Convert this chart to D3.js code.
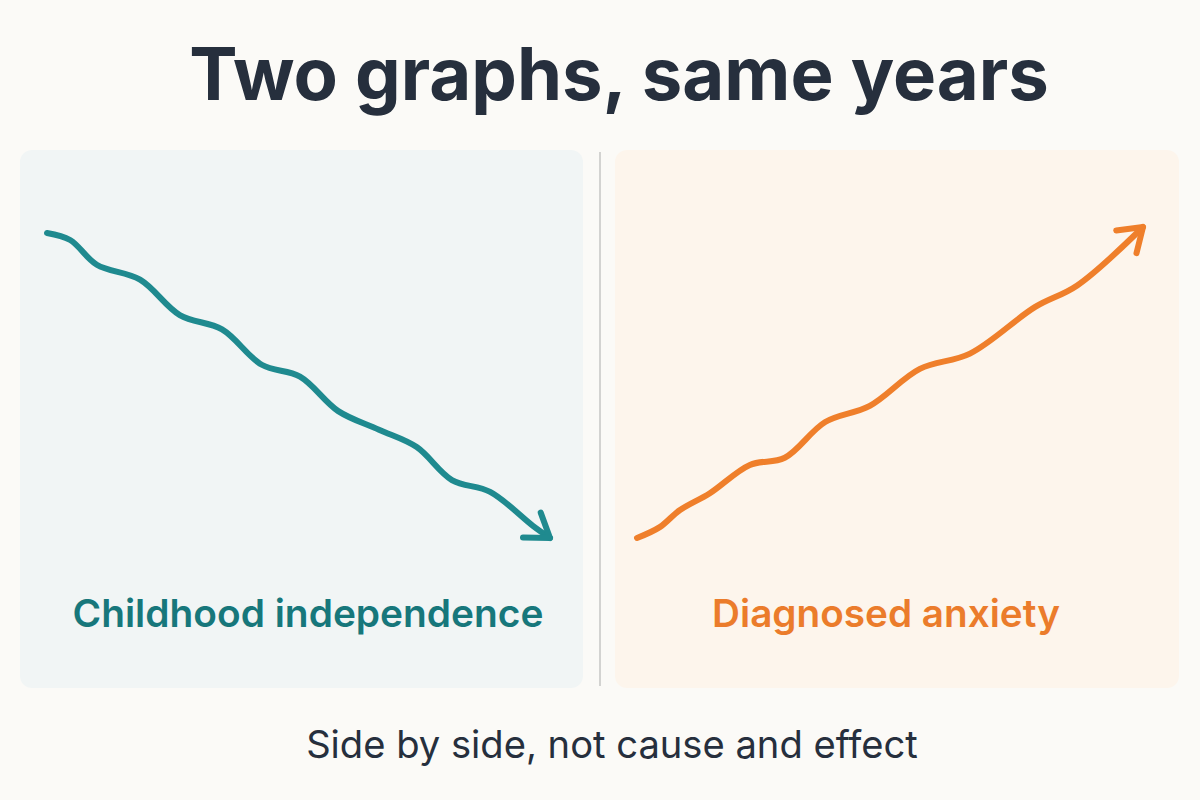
<!DOCTYPE html>
<html>
<head>
<meta charset="utf-8">
<script src="https://cdn.jsdelivr.net/npm/d3@7"></script>
<style>
  html, body { margin: 0; padding: 0; background: #fbfaf7; }
  svg { display: block; font-family: Inter, "Noto Sans", sans-serif; }
</style>
</head>
<body>
<div class="chart"></div>
<script>
// time runs 0..100 across each panel, index value 0..100
const indepT   = [0, 4.6, 9.9, 18.5, 26.4, 34.8, 42.7, 50.3, 57.9, 66.0, 73.5, 80.5, 88.1, 96.6, 100];
const indepVal = [100, 97.7, 89.6, 84.7, 73.1, 68.4, 56.8, 52.9, 41.6, 35.5, 29.8, 19.0, 15.1, 4.0, 0];

const anxT   = [0, 4.5, 8.5, 14.4, 22.3, 29.2, 37.2, 46.0, 55.9, 65.8, 78.7, 87.0, 100];
const anxVal = [0, 3.5, 9.0, 14.4, 23.5, 25.8, 37.3, 42.5, 54.4, 59.3, 74.3, 81.2, 100];

const titleText  = 'Two graphs, same years';
const labels     = ['Childhood independence', 'Diagnosed anxiety'];
const footerText = 'Side by side, not cause and effect';

const width = 1200, height = 800;

const svg = d3.select('.chart')
  .append('svg')
    .attr('width', width)
    .attr('height', height);

svg.append('rect')
  .attr('width', width)
  .attr('height', height)
  .attr('fill', '#fbfaf7');

// fit a text element to a target width by adjusting font size
function fitText(sel, targetW) {
  const fs = parseFloat(sel.attr('font-size'));
  const w = sel.node().getComputedTextLength();
  sel.attr('font-size', fs * targetW / w);
}

const title = svg.append('text')
  .attr('x', 619)
  .attr('y', 100)
  .attr('text-anchor', 'middle')
  .attr('font-size', 72)
  .attr('font-weight', 700)
  .attr('fill', '#262f3d')
  .text(titleText);
fitText(title, 860);

// panels
const panels = [
  {x: 20,  w: 563, fill: '#f1f5f5', color: '#1f8a8f', labelColor: '#17777b',
   t: indepT, v: indepVal, px: [47, 550], py: [538, 233], label: labels[0], lx: 308, lw: 471},
  {x: 615, w: 564, fill: '#fdf5ec', color: '#ef7f2b', labelColor: '#eb7c2b',
   t: anxT, v: anxVal, px: [637, 1143], py: [538, 227], label: labels[1], lx: 886, lw: 348}
];

svg.append('line')
  .attr('x1', 600).attr('x2', 600)
  .attr('y1', 152).attr('y2', 686)
  .attr('stroke', '#d3d3d1')
  .attr('stroke-width', 2);

panels.forEach(p => {
  const g = svg.append('g');

  g.append('rect')
    .attr('x', p.x)
    .attr('y', 150)
    .attr('width', p.w)
    .attr('height', 538)
    .attr('rx', 12)
    .attr('fill', p.fill);

  const x = d3.scaleLinear().domain([0, 100]).range(p.px);
  const y = d3.scaleLinear().domain([0, 100]).range(p.py);

  const pts = p.t.map((t, i) => [x(t), y(p.v[i])]);

  const line = d3.line().curve(d3.curveCatmullRom.alpha(0.5));

  g.append('path')
    .attr('d', line(pts))
    .attr('fill', 'none')
    .attr('stroke', p.color)
    .attr('stroke-width', 6)
    .attr('stroke-linecap', 'round')
    .attr('stroke-linejoin', 'round');

  // arrow head along the last segment
  const tip = pts[pts.length - 1];
  const prev = pts[pts.length - 2];
  const ang = Math.atan2(tip[1] - prev[1], tip[0] - prev[0]) + Math.PI;
  const len = 27, spread = 0.6;
  const arms = [ang - spread, ang + spread].map(a => [tip[0] + len * Math.cos(a), tip[1] + len * Math.sin(a)]);

  g.append('path')
    .attr('d', d3.line()([arms[0], tip, arms[1]]))
    .attr('fill', 'none')
    .attr('stroke', p.color)
    .attr('stroke-width', 6)
    .attr('stroke-linecap', 'round')
    .attr('stroke-linejoin', 'round');

  const lab = g.append('text')
    .attr('x', p.lx)
    .attr('y', 627)
    .attr('text-anchor', 'middle')
    .attr('font-size', 36)
    .attr('font-weight', 600)
    .attr('fill', p.labelColor)
    .text(p.label);
  fitText(lab, p.lw);
});

const footer = svg.append('text')
  .attr('x', 612)
  .attr('y', 758)
  .attr('text-anchor', 'middle')
  .attr('font-size', 34)
  .attr('font-weight', 400)
  .attr('fill', '#262f3d')
  .text(footerText);
fitText(footer, 612);
</script>
</body>
</html>
